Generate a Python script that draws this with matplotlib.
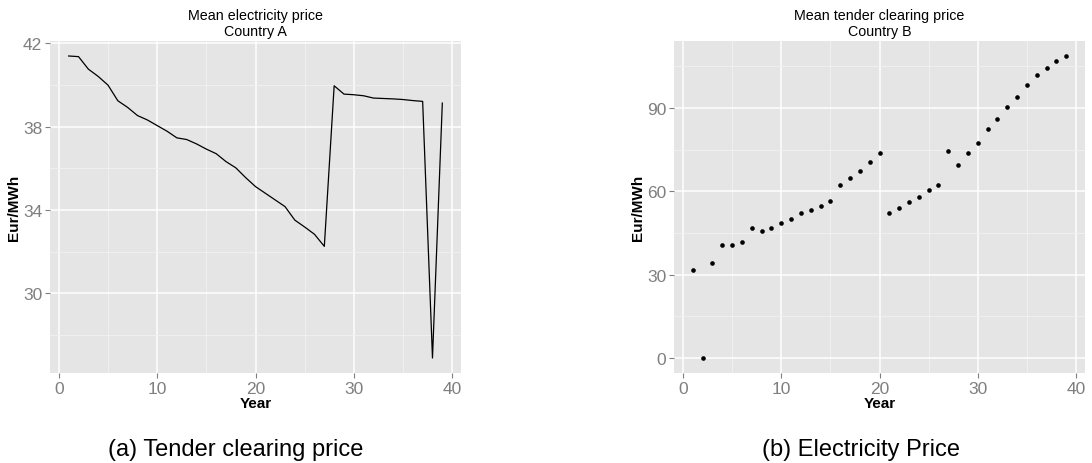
import numpy as np
import matplotlib
matplotlib.use("Agg")
import matplotlib.pyplot as plt

plt.rcParams['font.family'] = ['Liberation Sans', 'DejaVu Sans']

# Country A: mean electricity price per year
years_a = list(range(1, 40))
price_a = [41.39, 41.36, 40.76, 40.41, 39.99, 39.24, 38.92, 38.53, 38.32, 38.05,
           37.78, 37.46, 37.38, 37.17, 36.92, 36.70, 36.32, 36.02, 35.55, 35.12,
           34.80, 34.48, 34.16, 33.51, 33.18, 32.83, 32.25, 39.96, 39.56, 39.53,
           39.48, 39.37, 39.35, 39.33, 39.30, 39.25, 39.21, 26.89, 39.13]

# Country B: mean tender clearing price per year
years_b = list(range(1, 40))
price_b = [31.5, 0.0, 34.3, 40.8, 40.5, 41.9, 46.6, 45.8, 46.9, 48.7,
           50.1, 52.3, 53.4, 54.8, 56.6, 62.4, 64.9, 67.4, 70.6, 73.8,
           52.3, 54.1, 56.2, 58.0, 60.6, 62.4, 74.6, 69.5, 73.8, 77.4,
           82.5, 86.0, 90.4, 93.9, 98.3, 101.8, 104.4, 106.9, 108.7]

yticks_a = [30, 34, 38, 42]
yticks_b = [0, 30, 60, 90]
xticks = [0, 10, 20, 30, 40]

captions = ['(a) Tender clearing price', '(b) Electricity Price']

W, H = 1092, 464
fig = plt.figure(figsize=(W / 100, H / 100), dpi=100)
ax1 = fig.add_axes([50 / W, 1 - 374 / H, 411 / W, 332 / H])
ax2 = fig.add_axes([674 / W, 1 - 374 / H, 411 / W, 332 / H])


def gg_style(ax, title, yticks):
    ax.set_facecolor('#E5E5E5')
    for s in ax.spines.values():
        s.set_visible(False)
    ax.set_xticks(xticks)
    ax.set_xticks([5, 15, 25, 35], minor=True)
    ax.set_yticks(yticks)
    step = yticks[1] - yticks[0]
    ax.set_yticks([yticks[0] - step / 2] + [t + step / 2 for t in yticks], minor=True)
    ax.grid(which='major', color='white', linewidth=1.1)
    ax.grid(which='minor', color='#F2F2F2', linewidth=0.6)
    ax.set_axisbelow(True)
    ax.tick_params(which='major', length=3.5, width=0.8, color='#7F7F7F',
                   labelcolor='#7F7F7F', labelsize=12.5, pad=2)
    ax.tick_params(which='minor', length=0)
    ax.set_xlabel('Year', fontsize=11, fontweight='bold', labelpad=0)
    ax.set_ylabel('Eur/MWh', fontsize=11, fontweight='bold', labelpad=1.5)
    ax.set_title(title, fontsize=10.3, linespacing=1.2, pad=4)


ax1.plot(years_a, price_a, color='black', linewidth=0.9)
gg_style(ax1, 'Mean electricity price\nCountry A', yticks_a)
ax1.set_xlim(-0.9, 40.9)
ax1.set_ylim(26.17, 42.11)

ax2.scatter(years_b, price_b, color='black', s=11, linewidths=0)
gg_style(ax2, 'Mean tender clearing price\nCountry B', yticks_b)
ax2.set_xlim(-0.9, 40.9)
ax2.set_ylim(-5.43, 114.1)

fig.text(236 / W, 1 - 450 / H, captions[0], fontsize=17, ha='center', va='center')
fig.text(860.5 / W, 1 - 450 / H, captions[1], fontsize=17, ha='center', va='center')

fig.savefig('out.png', dpi=100)
